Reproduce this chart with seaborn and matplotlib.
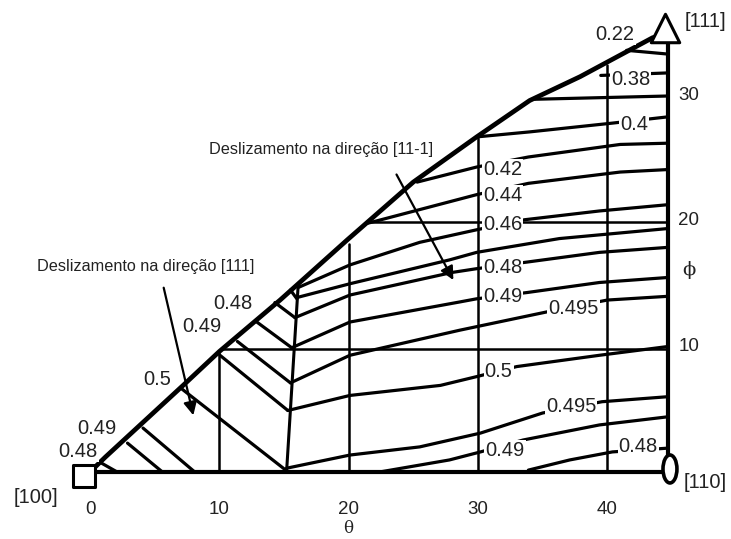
import matplotlib
matplotlib.use("Agg")
import matplotlib.pyplot as plt
from matplotlib.patches import Ellipse
import seaborn as sns

sns.set_theme(style="white")
plt.rcParams['font.family'] = ['Liberation Sans', 'DejaVu Sans']

# ---------------- data (theta, phi in degrees) ----------------
edge_theta = 44.7
edge_top_phi = 34.7
boundary_theta = [0.0, 1.2, 7.2, 10.0, 14.7, 19.9, 25.0, 29.9, 34.0, 37.9, 43.5, 44.7]
boundary_phi = [0.0, 1.2, 6.9, 9.6, 13.7, 18.5, 23.1, 26.7, 29.6, 31.5, 34.6, 35.0]

grid_theta = [10, 20, 30, 40]
grid_top_phi = [9.5, 18.2, 26.6, 32.4]
hline_phi = [9.8, 19.9]
hline_start_theta = [10.2, 21.4]

spine_theta = [16.1, 15.2]
spine_phi = [14.9, 0.0]

# hatching lines left of the spine (start on boundary)
left_lines_theta = [[0.9, 2.1], [2.9, 5.6], [4.1, 8.1], [7.0, 15.2],
                    [10.05, 15.3], [11.4, 15.5], [12.9, 15.6], [14.3, 15.85], [15.5, 16.0]]
left_lines_phi = [[0.7, 0.0], [2.3, 0.0], [3.5, 0.0], [6.7, 0.1],
                  [9.3, 4.9], [10.4, 7.1], [11.95, 9.9], [13.5, 12.3], [14.5, 13.8]]

# contours right of the spine
c022_theta = [41.5, 44.7]
c022_phi = [33.6, 33.3]
c038_theta = [39.5, 44.7]
c038_phi = [31.6, 31.8]
c030_theta = [34.4, 44.7]
c030_phi = [29.7, 29.96]
c040_theta = [29.9, 34.0, 40.4, 44.7]
c040_phi = [26.7, 27.1, 27.8, 28.3]
c042_theta = [25.3, 29.9, 33.9, 41.0, 44.7]
c042_phi = [23.1, 24.3, 25.1, 26.1, 26.2]
c044_theta = [21.4, 29.9, 33.9, 41.0, 44.7]
c044_phi = [19.8, 22.1, 23.0, 23.9, 24.1]
c046_theta = [16.1, 20.1, 25.5, 29.9, 33.6, 39.4, 44.7]
c046_phi = [14.7, 16.5, 18.3, 19.3, 20.1, 20.8, 21.3]
c047_theta = [16.0, 20.1, 27.8, 29.9, 36.3, 44.7]
c047_phi = [13.9, 15.0, 16.9, 17.5, 18.6, 19.4]
c048_theta = [15.85, 20.1, 28.0, 29.9, 33.6, 39.4, 44.7]
c048_phi = [12.3, 14.1, 15.9, 16.2, 16.7, 17.5, 17.9]
c049_theta = [15.6, 20.1, 28.6, 29.9, 33.8, 39.4, 44.7]
c049_phi = [9.9, 11.95, 13.55, 13.8, 14.3, 15.1, 15.5]
c0495u_theta = [15.5, 20.1, 28.6, 35.3, 40.0, 44.7]
c0495u_phi = [7.1, 9.3, 11.3, 12.75, 13.7, 14.0]
c050_theta = [15.3, 20.1, 27.1, 29.9, 33.0, 39.4, 44.7]
c050_phi = [4.9, 6.1, 6.9, 7.6, 8.4, 9.3, 10.0]
c0495l_theta = [15.2, 20.1, 25.5, 30.2, 35.0, 39.6, 44.7]
c0495l_phi = [0.3, 1.35, 2.0, 3.1, 4.7, 5.6, 6.0]
c049l_theta = [22.4, 27.8, 30.2, 33.5, 39.4, 44.7]
c049l_phi = [0.0, 0.96, 1.6, 2.55, 3.75, 4.4]
c048l_theta = [33.9, 37.1, 40.4, 44.7]
c048l_phi = [0.15, 0.96, 1.6, 1.9]

# contour value labels
label_text = ["0.22", "0.38", "0.4", "0.42", "0.44", "0.46", "0.48", "0.49", "0.495",
              "0.5", "0.495", "0.49", "0.48",
              "0.48", "0.49", "0.5", "0.49", "0.48"]
label_theta = [40.6, 41.8, 42.1, 31.9, 31.9, 31.9, 31.9, 31.9, 37.4,
               31.6, 37.2, 32.1, 42.4,
               11.06, 8.66, 5.18, 0.54, -0.93]
label_phi = [34.9, 31.3, 27.7, 24.1, 22.0, 19.7, 16.3, 14.0, 13.0,
             8.0, 5.2, 1.75, 2.0,
             13.4, 11.6, 7.4, 3.5, 1.6]

theta_ticks = [0, 10, 20, 30, 40]
phi_ticks = [10, 20, 30]

pole_names = ["[100]", "[110]", "[111]"]
pole_label_theta = [-4.2, 47.6, 47.6]
pole_label_phi = [-2.0, -0.8, 35.9]

note_text = ["Deslizamento na direção [111]", "Deslizamento na direção [11-1]"]
note_theta = [4.33, 17.9]
note_phi = [16.4, 25.7]
arrow_start = [(5.65, 14.9), (23.6, 23.9)]
arrow_end = [(8.04, 4.3), (28.2, 15.1)]

# ---------------- figure ----------------
fig = plt.figure(figsize=(7.31, 5.39), dpi=100)
ax = fig.add_axes([0, 0, 1, 1])
ax.set_xlim(-6.96, 49.57)
ax.set_ylim(-5.34, 37.61)
ax.axis("off")


def draw(th, ph, lw):
    sns.lineplot(x=th, y=ph, sort=False, estimator=None, color="black",
                 lw=lw, ax=ax, legend=False, solid_capstyle="round")


# frame
draw(boundary_theta, boundary_phi, 3.4)
draw([0, edge_theta], [0, 0], 3.0)
draw([edge_theta, edge_theta], [0, edge_top_phi], 3.0)

for t, top in zip(grid_theta, grid_top_phi):
    draw([t, t], [0, top], 1.8)
for p, s in zip(hline_phi, hline_start_theta):
    draw([s, edge_theta], [p, p], 1.8)

draw(spine_theta, spine_phi, 2.2)
for th, ph in zip(left_lines_theta, left_lines_phi):
    draw(th, ph, 2.3)

for th, ph in [(c022_theta, c022_phi), (c038_theta, c038_phi), (c030_theta, c030_phi),
               (c040_theta, c040_phi), (c042_theta, c042_phi), (c044_theta, c044_phi),
               (c046_theta, c046_phi), (c047_theta, c047_phi), (c048_theta, c048_phi),
               (c049_theta, c049_phi), (c0495u_theta, c0495u_phi), (c050_theta, c050_phi),
               (c0495l_theta, c0495l_phi), (c049l_theta, c049l_phi), (c048l_theta, c048l_phi)]:
    draw(th, ph, 2.3)

# contour labels
for s, t, p in zip(label_text, label_theta, label_phi):
    ax.text(t, p, s, fontsize=14.5, ha="center", va="center", color="#222222",
            bbox=dict(boxstyle="square,pad=0.05", fc="white", ec="none"), zorder=5)

# axis tick labels
for t in theta_ticks:
    ax.text(t, -3.0, str(t), fontsize=13.5, ha="center", va="center", color="#222222")
for p in phi_ticks:
    ax.text(46.3, p, str(p), fontsize=13.5, ha="center", va="center", color="#222222")
ax.text(20.0, -4.5, "θ", fontsize=12, ha="center", va="center", color="#222222",
        family="DejaVu Serif")
ax.text(46.3, 16.1, "ϕ", fontsize=14, ha="center", va="center", color="#222222",
        family="DejaVu Serif")

for s, t, p in zip(pole_names, pole_label_theta, pole_label_phi):
    ax.text(t, p, s, fontsize=14.5, ha="center", va="center", color="#222222")

# pole markers
sns.scatterplot(x=[-0.46], y=[-0.3], marker="s", s=250, facecolor="white",
                edgecolor="black", linewidth=2.2, ax=ax, zorder=6, legend=False)
sns.scatterplot(x=[44.5], y=[35.4], marker="^", s=420, facecolor="white",
                edgecolor="black", linewidth=2.2, ax=ax, zorder=6, legend=False)
ax.add_patch(Ellipse((44.85, 0.24), 1.08, 2.23, fc="white", ec="black", lw=2.6, zorder=6))

# notes with arrows
for s, t, p in zip(note_text, note_theta, note_phi):
    ax.text(t, p, s, fontsize=11.7, ha="center", va="center", color="#222222")
for a, b in zip(arrow_start, arrow_end):
    ax.annotate("", xy=b, xytext=a,
                arrowprops=dict(arrowstyle="-|>", color="black", lw=1.6, mutation_scale=20))

fig.savefig("out.png", dpi=100)
